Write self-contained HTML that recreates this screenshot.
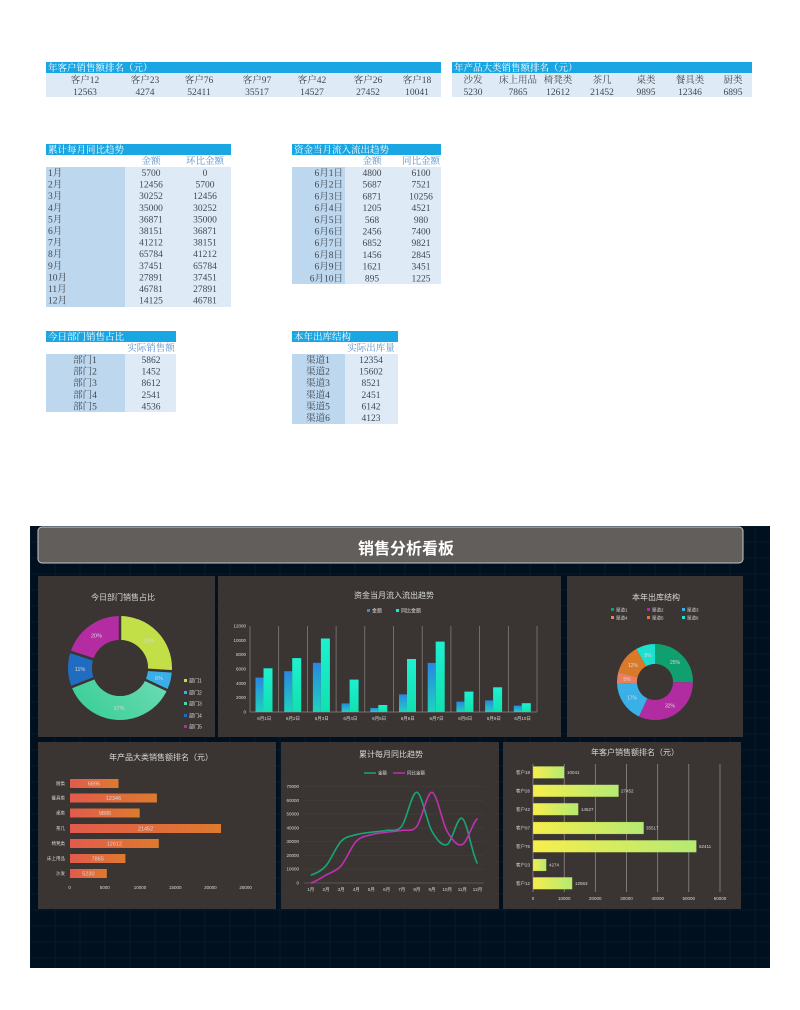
<!DOCTYPE html>
<html><head><meta charset="utf-8"><style>
html,body{margin:0;padding:0;background:#fff;}
svg{display:block;}
.t{font-family:"Liberation Serif","Noto Serif CJK SC",serif;font-size:9.5px;fill:#404850;}
.th{font-family:"Liberation Serif","Noto Serif CJK SC",serif;font-size:9.5px;fill:#fff;}
.ch{font-family:"Liberation Serif","Noto Serif CJK SC",serif;font-size:9.5px;fill:#5b8fc7;}
.d{font-family:"Liberation Sans","Noto Sans CJK SC",sans-serif;fill:#d8d8d8;}
</style></head><body>
<svg width="800" height="1010" viewBox="0 0 800 1010" xmlns="http://www.w3.org/2000/svg">
<defs>
<pattern id="grid" x="30" y="526" width="25" height="16" patternUnits="userSpaceOnUse"><rect width="25" height="16" fill="#01101f" stroke="#0c2036" stroke-width="0.6"/></pattern>
<linearGradient id="gB" x1="0" y1="1" x2="0" y2="0"><stop offset="0" stop-color="#1ed2c0"/><stop offset="1" stop-color="#2a86e0"/></linearGradient>
<linearGradient id="gT" x1="0" y1="1" x2="0" y2="0"><stop offset="0" stop-color="#12e0b0"/><stop offset="1" stop-color="#1ef0d0"/></linearGradient>
<linearGradient id="gO" x1="0" y1="0" x2="1" y2="0"><stop offset="0" stop-color="#e25a4c"/><stop offset="1" stop-color="#de7a2e"/></linearGradient>
<linearGradient id="gY" x1="0" y1="0" x2="1" y2="0"><stop offset="0" stop-color="#f6ee4c"/><stop offset="1" stop-color="#b4ea74"/></linearGradient>
<linearGradient id="gG" x1="0" y1="0" x2="1" y2="1"><stop offset="0" stop-color="#3ccf98"/><stop offset="1" stop-color="#7fe0c0"/></linearGradient>
</defs>

<!-- Table 1 -->
<rect x="46" y="62" width="395" height="11" fill="#1aa6e2"/>
<text class="th" x="48" y="71">年客户销售额排名（元）</text>
<rect x="46" y="73" width="395" height="24" fill="#deebf7"/>
<g class="t" text-anchor="middle">
<text x="85" y="83">客户12</text><text x="145" y="83">客户23</text><text x="199" y="83">客户76</text><text x="257" y="83">客户97</text><text x="312" y="83">客户42</text><text x="368" y="83">客户26</text><text x="417" y="83">客户18</text>
<text x="85" y="95">12563</text><text x="145" y="95">4274</text><text x="199" y="95">52411</text><text x="257" y="95">35517</text><text x="312" y="95">14527</text><text x="368" y="95">27452</text><text x="417" y="95">10041</text>
</g>
<!-- Table 2 -->
<rect x="452" y="62" width="300" height="11" fill="#1aa6e2"/>
<text class="th" x="454" y="71">年产品大类销售额排名（元）</text>
<rect x="452" y="73" width="300" height="24" fill="#deebf7"/>
<g class="t" text-anchor="middle">
<text x="473" y="83">沙发</text><text x="518" y="83">床上用品</text><text x="558" y="83">椅凳类</text><text x="602" y="83">茶几</text><text x="646" y="83">桌类</text><text x="690" y="83">餐具类</text><text x="733" y="83">厨类</text>
<text x="473" y="95">5230</text><text x="518" y="95">7865</text><text x="558" y="95">12612</text><text x="602" y="95">21452</text><text x="646" y="95">9895</text><text x="690" y="95">12346</text><text x="733" y="95">6895</text>
</g>

<!-- Table 3 -->
<rect x="46" y="144" width="185" height="11" fill="#1aa6e2"/>
<text class="th" x="48" y="153">累计每月同比趋势</text>
<text class="ch" x="151" y="164" text-anchor="middle">金额</text><text class="ch" x="205" y="164" text-anchor="middle">环比金额</text>
<rect x="46" y="167" width="79" height="140" fill="#bdd7ee"/>
<rect x="125" y="167" width="106" height="140" fill="#deebf7"/>
<g class="t">
<text x="48" y="176">1月</text><text x="48" y="187.6">2月</text><text x="48" y="199.2">3月</text><text x="48" y="210.8">4月</text><text x="48" y="222.4">5月</text><text x="48" y="234">6月</text><text x="48" y="245.6">7月</text><text x="48" y="257.2">8月</text><text x="48" y="268.8">9月</text><text x="48" y="280.4">10月</text><text x="48" y="292">11月</text><text x="48" y="303.6">12月</text>
</g>
<g class="t" text-anchor="middle">
<text x="151" y="176">5700</text><text x="151" y="187.6">12456</text><text x="151" y="199.2">30252</text><text x="151" y="210.8">35000</text><text x="151" y="222.4">36871</text><text x="151" y="234">38151</text><text x="151" y="245.6">41212</text><text x="151" y="257.2">65784</text><text x="151" y="268.8">37451</text><text x="151" y="280.4">27891</text><text x="151" y="292">46781</text><text x="151" y="303.6">14125</text>
<text x="205" y="176">0</text><text x="205" y="187.6">5700</text><text x="205" y="199.2">12456</text><text x="205" y="210.8">30252</text><text x="205" y="222.4">35000</text><text x="205" y="234">36871</text><text x="205" y="245.6">38151</text><text x="205" y="257.2">41212</text><text x="205" y="268.8">65784</text><text x="205" y="280.4">37451</text><text x="205" y="292">27891</text><text x="205" y="303.6">46781</text>
</g>

<!-- Table 4 -->
<rect x="292" y="144" width="149" height="11" fill="#1aa6e2"/>
<text class="th" x="294" y="153">资金当月流入流出趋势</text>
<text class="ch" x="372" y="164" text-anchor="middle">金额</text><text class="ch" x="421" y="164" text-anchor="middle">同比金额</text>
<rect x="292" y="167" width="53" height="117" fill="#bdd7ee"/>
<rect x="345" y="167" width="96" height="117" fill="#deebf7"/>
<g class="t" text-anchor="end">
<text x="343" y="176">6月1日</text><text x="343" y="187.7">6月2日</text><text x="343" y="199.4">6月3日</text><text x="343" y="211.1">6月4日</text><text x="343" y="222.8">6月5日</text><text x="343" y="234.5">6月6日</text><text x="343" y="246.2">6月7日</text><text x="343" y="257.9">6月8日</text><text x="343" y="269.6">6月9日</text><text x="343" y="281.3">6月10日</text>
</g>
<g class="t" text-anchor="middle">
<text x="372" y="176">4800</text><text x="372" y="187.7">5687</text><text x="372" y="199.4">6871</text><text x="372" y="211.1">1205</text><text x="372" y="222.8">568</text><text x="372" y="234.5">2456</text><text x="372" y="246.2">6852</text><text x="372" y="257.9">1456</text><text x="372" y="269.6">1621</text><text x="372" y="281.3">895</text>
<text x="421" y="176">6100</text><text x="421" y="187.7">7521</text><text x="421" y="199.4">10256</text><text x="421" y="211.1">4521</text><text x="421" y="222.8">980</text><text x="421" y="234.5">7400</text><text x="421" y="246.2">9821</text><text x="421" y="257.9">2845</text><text x="421" y="269.6">3451</text><text x="421" y="281.3">1225</text>
</g>

<!-- Table 5 -->
<rect x="46" y="331" width="130" height="11" fill="#1aa6e2"/>
<text class="th" x="48" y="340">今日部门销售占比</text>
<text class="ch" x="151" y="351" text-anchor="middle">实际销售额</text>
<rect x="46" y="354" width="79" height="58" fill="#bdd7ee"/>
<rect x="125" y="354" width="51" height="58" fill="#deebf7"/>
<g class="t" text-anchor="middle">
<text x="85" y="363">部门1</text><text x="85" y="374.6">部门2</text><text x="85" y="386.2">部门3</text><text x="85" y="397.8">部门4</text><text x="85" y="409.4">部门5</text>
<text x="151" y="363">5862</text><text x="151" y="374.6">1452</text><text x="151" y="386.2">8612</text><text x="151" y="397.8">2541</text><text x="151" y="409.4">4536</text>
</g>

<!-- Table 6 -->
<rect x="292" y="331" width="106" height="11" fill="#1aa6e2"/>
<text class="th" x="294" y="340">本年出库结构</text>
<text class="ch" x="371" y="351" text-anchor="middle">实际出库量</text>
<rect x="292" y="354" width="53" height="70" fill="#bdd7ee"/>
<rect x="345" y="354" width="53" height="70" fill="#deebf7"/>
<g class="t" text-anchor="middle">
<text x="318" y="363">渠道1</text><text x="318" y="374.6">渠道2</text><text x="318" y="386.2">渠道3</text><text x="318" y="397.8">渠道4</text><text x="318" y="409.4">渠道5</text><text x="318" y="421">渠道6</text>
<text x="371" y="363">12354</text><text x="371" y="374.6">15602</text><text x="371" y="386.2">8521</text><text x="371" y="397.8">2451</text><text x="371" y="409.4">6142</text><text x="371" y="421">4123</text>
</g>

<!-- Dashboard -->
<rect x="30" y="526" width="740" height="442" fill="url(#grid)"/>
<rect x="38" y="527" width="705" height="36" rx="4" fill="#625e5b" stroke="#c8c8c8" stroke-width="1"/>
<text x="406" y="554" text-anchor="middle" font-family="Liberation Sans,Noto Sans CJK SC,sans-serif" font-size="16" font-weight="bold" fill="#fff">销售分析看板</text>

<rect x="38" y="576" width="177" height="161" fill="#3a3532"/>
<rect x="218" y="576" width="343" height="161" fill="#3a3532"/>
<rect x="567" y="576" width="176" height="161" fill="#3a3532"/>
<rect x="38" y="742" width="238" height="167" fill="#3a3532"/>
<rect x="281" y="742" width="218" height="167" fill="#3a3532"/>
<rect x="503" y="742" width="238" height="167" fill="#3a3532"/>

<!-- P1 donut -->
<text class="d" x="123" y="600" text-anchor="middle" font-size="8">今日部门销售占比</text>
<g transform="rotate(-90 120 668)" fill="none" stroke-width="24">
<circle cx="120" cy="668" r="40" stroke="#c3df48" stroke-dasharray="65.3 251.3" stroke-dashoffset="0"/>
<circle cx="120" cy="668" r="40" stroke="#3aaee6" stroke-dasharray="15.1 251.3" stroke-dashoffset="-65.3"/>
<circle cx="120" cy="668" r="40" stroke="url(#gG)" stroke-dasharray="93 251.3" stroke-dashoffset="-80.4"/>
<circle cx="120" cy="668" r="40" stroke="#1f6cc0" stroke-dasharray="27.6 251.3" stroke-dashoffset="-173.4"/>
<circle cx="120" cy="668" r="40" stroke="#b42ca2" stroke-dasharray="50.3 251.3" stroke-dashoffset="-201"/>
</g>
<g stroke="#3a3532" stroke-width="2.5">
<line x1="120" y1="668" x2="120" y2="613"/><line x1="120" y1="668" x2="174.9" y2="671.5"/><line x1="120" y1="668" x2="169.8" y2="691.4"/><line x1="120" y1="668" x2="68.8" y2="688.2"/><line x1="120" y1="668" x2="67.7" y2="651"/>
</g>
<circle cx="120" cy="668" r="28" fill="#3a3532"/>
<g class="d" font-size="5.5" fill="#fff" text-anchor="middle">
<text x="149" y="642.5">26%</text><text x="159" y="680">6%</text><text x="119" y="710">37%</text><text x="80" y="671">11%</text><text x="96.5" y="637.5">20%</text>
</g>
<g font-size="5" class="d">
<rect x="184" y="679" width="3" height="3" fill="#c3df48"/><text x="189" y="682.5">部门1</text>
<rect x="184" y="691" width="3" height="3" fill="#3aaee6"/><text x="189" y="694.5">部门2</text>
<rect x="184" y="702" width="3" height="3" fill="#4fd6a0"/><text x="189" y="705.5">部门3</text>
<rect x="184" y="714" width="3" height="3" fill="#1f6cc0"/><text x="189" y="717.5">部门4</text>
<rect x="184" y="725" width="3" height="3" fill="#b42ca2"/><text x="189" y="728.5">部门5</text>
</g>

<!-- P2 bar chart -->
<text class="d" x="394" y="598" text-anchor="middle" font-size="8">资金当月流入流出趋势</text>
<g font-size="5" class="d">
<rect x="367" y="609" width="3" height="3" fill="#2a8ee0"/><text x="372" y="612.5">金额</text>
<rect x="396" y="609" width="3" height="3" fill="#18e8c0"/><text x="401" y="612.5">同比金额</text>
</g>
<g stroke="#8a8684" stroke-width="0.7">
<line x1="250" y1="626" x2="250" y2="712"/><line x1="278.7" y1="626" x2="278.7" y2="712"/><line x1="307.4" y1="626" x2="307.4" y2="712"/><line x1="336.1" y1="626" x2="336.1" y2="712"/><line x1="364.8" y1="626" x2="364.8" y2="712"/><line x1="393.5" y1="626" x2="393.5" y2="712"/><line x1="422.2" y1="626" x2="422.2" y2="712"/><line x1="450.9" y1="626" x2="450.9" y2="712"/><line x1="479.6" y1="626" x2="479.6" y2="712"/><line x1="508.3" y1="626" x2="508.3" y2="712"/><line x1="537" y1="626" x2="537" y2="712"/>
<line x1="250" y1="712" x2="537" y2="712"/>
</g>
<g class="d" font-size="4.5" text-anchor="end">
<text x="246" y="713.5">0</text><text x="246" y="699.2">2000</text><text x="246" y="684.8">4000</text><text x="246" y="670.5">6000</text><text x="246" y="656.2">8000</text><text x="246" y="641.8">10000</text><text x="246" y="627.5">12000</text>
</g>
<g fill="url(#gB)">
<rect x="255.5" y="677.6" width="8" height="34.4"/><rect x="284.2" y="671.2" width="8" height="40.8"/><rect x="312.9" y="662.8" width="8" height="49.2"/><rect x="341.6" y="703.4" width="8" height="8.6"/><rect x="370.3" y="707.9" width="8" height="4.1"/><rect x="399" y="694.4" width="8" height="17.6"/><rect x="427.7" y="662.9" width="8" height="49.1"/><rect x="456.4" y="701.6" width="8" height="10.4"/><rect x="485.1" y="700.4" width="8" height="11.6"/><rect x="513.8" y="705.6" width="8" height="6.4"/>
</g>
<g fill="url(#gT)">
<rect x="263.5" y="668.3" width="9" height="43.7"/><rect x="292.2" y="658.1" width="9" height="53.9"/><rect x="320.9" y="638.5" width="9" height="73.5"/><rect x="349.6" y="679.6" width="9" height="32.4"/><rect x="378.3" y="705" width="9" height="7"/><rect x="407" y="659" width="9" height="53"/><rect x="435.7" y="641.6" width="9" height="70.4"/><rect x="464.4" y="691.6" width="9" height="20.4"/><rect x="493.1" y="687.3" width="9" height="24.7"/><rect x="521.8" y="703.2" width="9" height="8.8"/>
</g>
<g class="d" font-size="4.5" text-anchor="middle">
<text x="264.3" y="720">6月1日</text><text x="293" y="720">6月2日</text><text x="321.7" y="720">6月3日</text><text x="350.4" y="720">6月4日</text><text x="379.1" y="720">6月5日</text><text x="407.8" y="720">6月6日</text><text x="436.5" y="720">6月7日</text><text x="465.2" y="720">6月8日</text><text x="493.9" y="720">6月9日</text><text x="522.6" y="720">6月10日</text>
</g>

<!-- P3 donut -->
<text class="d" x="656" y="600" text-anchor="middle" font-size="8">本年出库结构</text>
<g font-size="4.5" class="d">
<rect x="611" y="608" width="3" height="3" fill="#10a070"/><text x="616" y="611.5">渠道1</text>
<rect x="647" y="608" width="3" height="3" fill="#b02ca0"/><text x="652" y="611.5">渠道2</text>
<rect x="682" y="608" width="3" height="3" fill="#3ab0e8"/><text x="687" y="611.5">渠道3</text>
<rect x="611" y="616" width="3" height="3" fill="#e88060"/><text x="616" y="619.5">渠道4</text>
<rect x="647" y="616" width="3" height="3" fill="#d97a28"/><text x="652" y="619.5">渠道5</text>
<rect x="682" y="616" width="3" height="3" fill="#1ee0d0"/><text x="687" y="619.5">渠道6</text>
</g>
<g transform="rotate(-90 655 682)" fill="none" stroke-width="20">
<circle cx="655" cy="682" r="28" stroke="#10a070" stroke-dasharray="44.2 176" stroke-dashoffset="0"/>
<circle cx="655" cy="682" r="28" stroke="#b02ca0" stroke-dasharray="55.8 176" stroke-dashoffset="-44.2"/>
<circle cx="655" cy="682" r="28" stroke="#3ab0e8" stroke-dasharray="30.5 176" stroke-dashoffset="-100"/>
<circle cx="655" cy="682" r="28" stroke="#e88060" stroke-dasharray="8.8 176" stroke-dashoffset="-130.5"/>
<circle cx="655" cy="682" r="28" stroke="#d97a28" stroke-dasharray="22 176" stroke-dashoffset="-139.3"/>
<circle cx="655" cy="682" r="28" stroke="#1ee0d0" stroke-dasharray="14.7 176" stroke-dashoffset="-161.3"/>
</g>
<circle cx="655" cy="682" r="18" fill="#3a3532"/>
<g class="d" font-size="5" fill="#fff" text-anchor="middle">
<text x="675" y="664">25%</text><text x="670" y="707.5">32%</text><text x="632" y="699.5">17%</text><text x="627" y="681">5%</text><text x="633" y="667">12%</text><text x="648" y="657">8%</text>
</g>

<!-- P4 horizontal bars -->
<text class="d" x="161" y="760" text-anchor="middle" font-size="8">年产品大类销售额排名（元）</text>
<g fill="url(#gO)">
<rect x="70" y="779" width="48.5" height="9"/><rect x="70" y="793.5" width="86.9" height="9"/><rect x="70" y="808.5" width="69.7" height="9"/><rect x="70" y="824" width="151" height="9"/><rect x="70" y="839" width="88.8" height="9"/><rect x="70" y="854" width="55.4" height="9"/><rect x="70" y="869" width="36.8" height="9"/>
</g>
<g class="d" font-size="4.5" text-anchor="end">
<text x="65" y="785">厨类</text><text x="65" y="799.5">餐具类</text><text x="65" y="814.5">桌类</text><text x="65" y="830">茶几</text><text x="65" y="845">椅凳类</text><text x="65" y="860">床上用品</text><text x="65" y="875">沙发</text>
</g>
<g class="d" font-size="5.5" fill="#fff" text-anchor="middle">
<text x="94" y="785.5">6895</text><text x="113.5" y="800">12346</text><text x="105" y="815">9895</text><text x="145.5" y="830.5">21452</text><text x="114.4" y="845.5">12612</text><text x="97.7" y="860.5">7865</text><text x="88.4" y="875.5">5230</text>
</g>
<g class="d" font-size="4.5" text-anchor="middle">
<text x="69.6" y="889">0</text><text x="104.8" y="889">5000</text><text x="140" y="889">10000</text><text x="175.2" y="889">15000</text><text x="210.4" y="889">20000</text><text x="245.6" y="889">25000</text>
</g>

<!-- P5 line chart -->
<text class="d" x="391" y="757" text-anchor="middle" font-size="8">累计每月同比趋势</text>
<g font-size="4.5" class="d">
<line x1="364" y1="773" x2="376" y2="773" stroke="#18a57a" stroke-width="1.5"/><text x="378" y="774.5">金额</text>
<line x1="393" y1="773" x2="405" y2="773" stroke="#c030b0" stroke-width="1.5"/><text x="407" y="774.5">同比金额</text>
</g>
<g stroke="#46403d" stroke-width="0.5">
<line x1="304" y1="869.2" x2="484" y2="869.2"/><line x1="304" y1="855.4" x2="484" y2="855.4"/><line x1="304" y1="841.6" x2="484" y2="841.6"/><line x1="304" y1="827.9" x2="484" y2="827.9"/><line x1="304" y1="814.1" x2="484" y2="814.1"/><line x1="304" y1="800.3" x2="484" y2="800.3"/><line x1="304" y1="786.5" x2="484" y2="786.5"/>
</g>
<line x1="304" y1="883" x2="484" y2="883" stroke="#777" stroke-width="0.6"/>
<g class="d" font-size="4.5" text-anchor="end">
<text x="299" y="884.5">0</text><text x="299" y="870.7">10000</text><text x="299" y="856.9">20000</text><text x="299" y="843.1">30000</text><text x="299" y="829.4">40000</text><text x="299" y="815.6">50000</text><text x="299" y="801.8">60000</text><text x="299" y="788">70000</text>
</g>
<g class="d" font-size="4.5" text-anchor="middle">
<text x="310.8" y="891">1月</text><text x="326" y="891">2月</text><text x="341.1" y="891">3月</text><text x="356.3" y="891">4月</text><text x="371.4" y="891">5月</text><text x="386.6" y="891">6月</text><text x="401.7" y="891">7月</text><text x="416.9" y="891">8月</text><text x="432" y="891">9月</text><text x="447.2" y="891">10月</text><text x="462.3" y="891">11月</text><text x="477.5" y="891">12月</text>
</g>
<path fill="none" stroke="#18a57a" stroke-width="1.6" d="M310.8,875.1 C315.85,873.55 320.9,871.43 325.95,865.8 C331,860.17 336.05,846.48 341.1,841.3 C346.15,836.12 351.2,836.22 356.25,834.7 C361.3,833.18 366.35,832.92 371.4,832.2 C376.45,831.48 381.5,831.4 386.55,830.4 C391.6,829.4 396.65,832.55 401.7,826.2 C406.75,819.85 411.8,791.43 416.85,792.3 C421.9,793.17 426.95,822.7 432,831.4 C437.05,840.1 442.1,846.65 447.15,844.5 C452.2,842.35 457.25,815.33 462.3,818.5 C467.35,821.67 472.4,856 477.45,863.5"/>
<path fill="none" stroke="#c030b0" stroke-width="1.6" d="M310.8,883 C315.85,881.68 320.9,877.97 325.95,875.1 C331,872.23 336.05,871.43 341.1,865.8 C346.15,860.17 351.2,846.48 356.25,841.3 C361.3,836.12 366.35,836.22 371.4,834.7 C376.45,833.18 381.5,832.92 386.55,832.2 C391.6,831.48 396.65,831.4 401.7,830.4 C406.75,829.4 411.8,832.55 416.85,826.2 C421.9,819.85 426.95,791.43 432,792.3 C437.05,793.17 442.1,822.7 447.15,831.4 C452.2,840.1 457.25,846.65 462.3,844.5 C467.35,842.35 472.4,822.83 477.45,818.5"/>

<!-- P6 horizontal bars -->
<text class="d" x="635" y="755" text-anchor="middle" font-size="8">年客户销售额排名（元）</text>
<g stroke="#9a9592" stroke-width="0.7">
<line x1="564.2" y1="764" x2="564.2" y2="892"/><line x1="595.3" y1="764" x2="595.3" y2="892"/><line x1="626.5" y1="764" x2="626.5" y2="892"/><line x1="657.7" y1="764" x2="657.7" y2="892"/><line x1="688.8" y1="764" x2="688.8" y2="892"/><line x1="720" y1="764" x2="720" y2="892"/>
<line x1="533" y1="764" x2="533" y2="892"/>
</g>
<g fill="url(#gY)" stroke="#8a8a30" stroke-width="0.5" stroke-dasharray="1 1">
<rect x="533" y="766.4" width="31.3" height="12"/><rect x="533" y="784.8" width="85.6" height="12"/><rect x="533" y="803.2" width="45.3" height="12"/><rect x="533" y="822" width="110.7" height="12"/><rect x="533" y="840.3" width="163.4" height="12"/><rect x="533" y="859" width="13.3" height="12"/><rect x="533" y="877.3" width="39.2" height="12"/>
</g>
<g class="d" font-size="4.5" text-anchor="end">
<text x="530" y="774">客户18</text><text x="530" y="792.4">客户26</text><text x="530" y="810.8">客户42</text><text x="530" y="829.6">客户97</text><text x="530" y="847.9">客户76</text><text x="530" y="866.6">客户23</text><text x="530" y="884.9">客户12</text>
</g>
<g class="d" font-size="4.5">
<text x="567" y="774">10041</text><text x="621" y="792.4">27452</text><text x="581" y="810.8">14527</text><text x="646" y="829.6">35517</text><text x="699" y="847.9">52411</text><text x="549" y="866.6">4274</text><text x="575" y="884.9">12563</text>
</g>
<g class="d" font-size="4.5" text-anchor="middle">
<text x="533" y="900">0</text><text x="564.2" y="900">10000</text><text x="595.3" y="900">20000</text><text x="626.5" y="900">30000</text><text x="657.7" y="900">40000</text><text x="688.8" y="900">50000</text><text x="720" y="900">60000</text>
</g>
</svg>
</body></html>
